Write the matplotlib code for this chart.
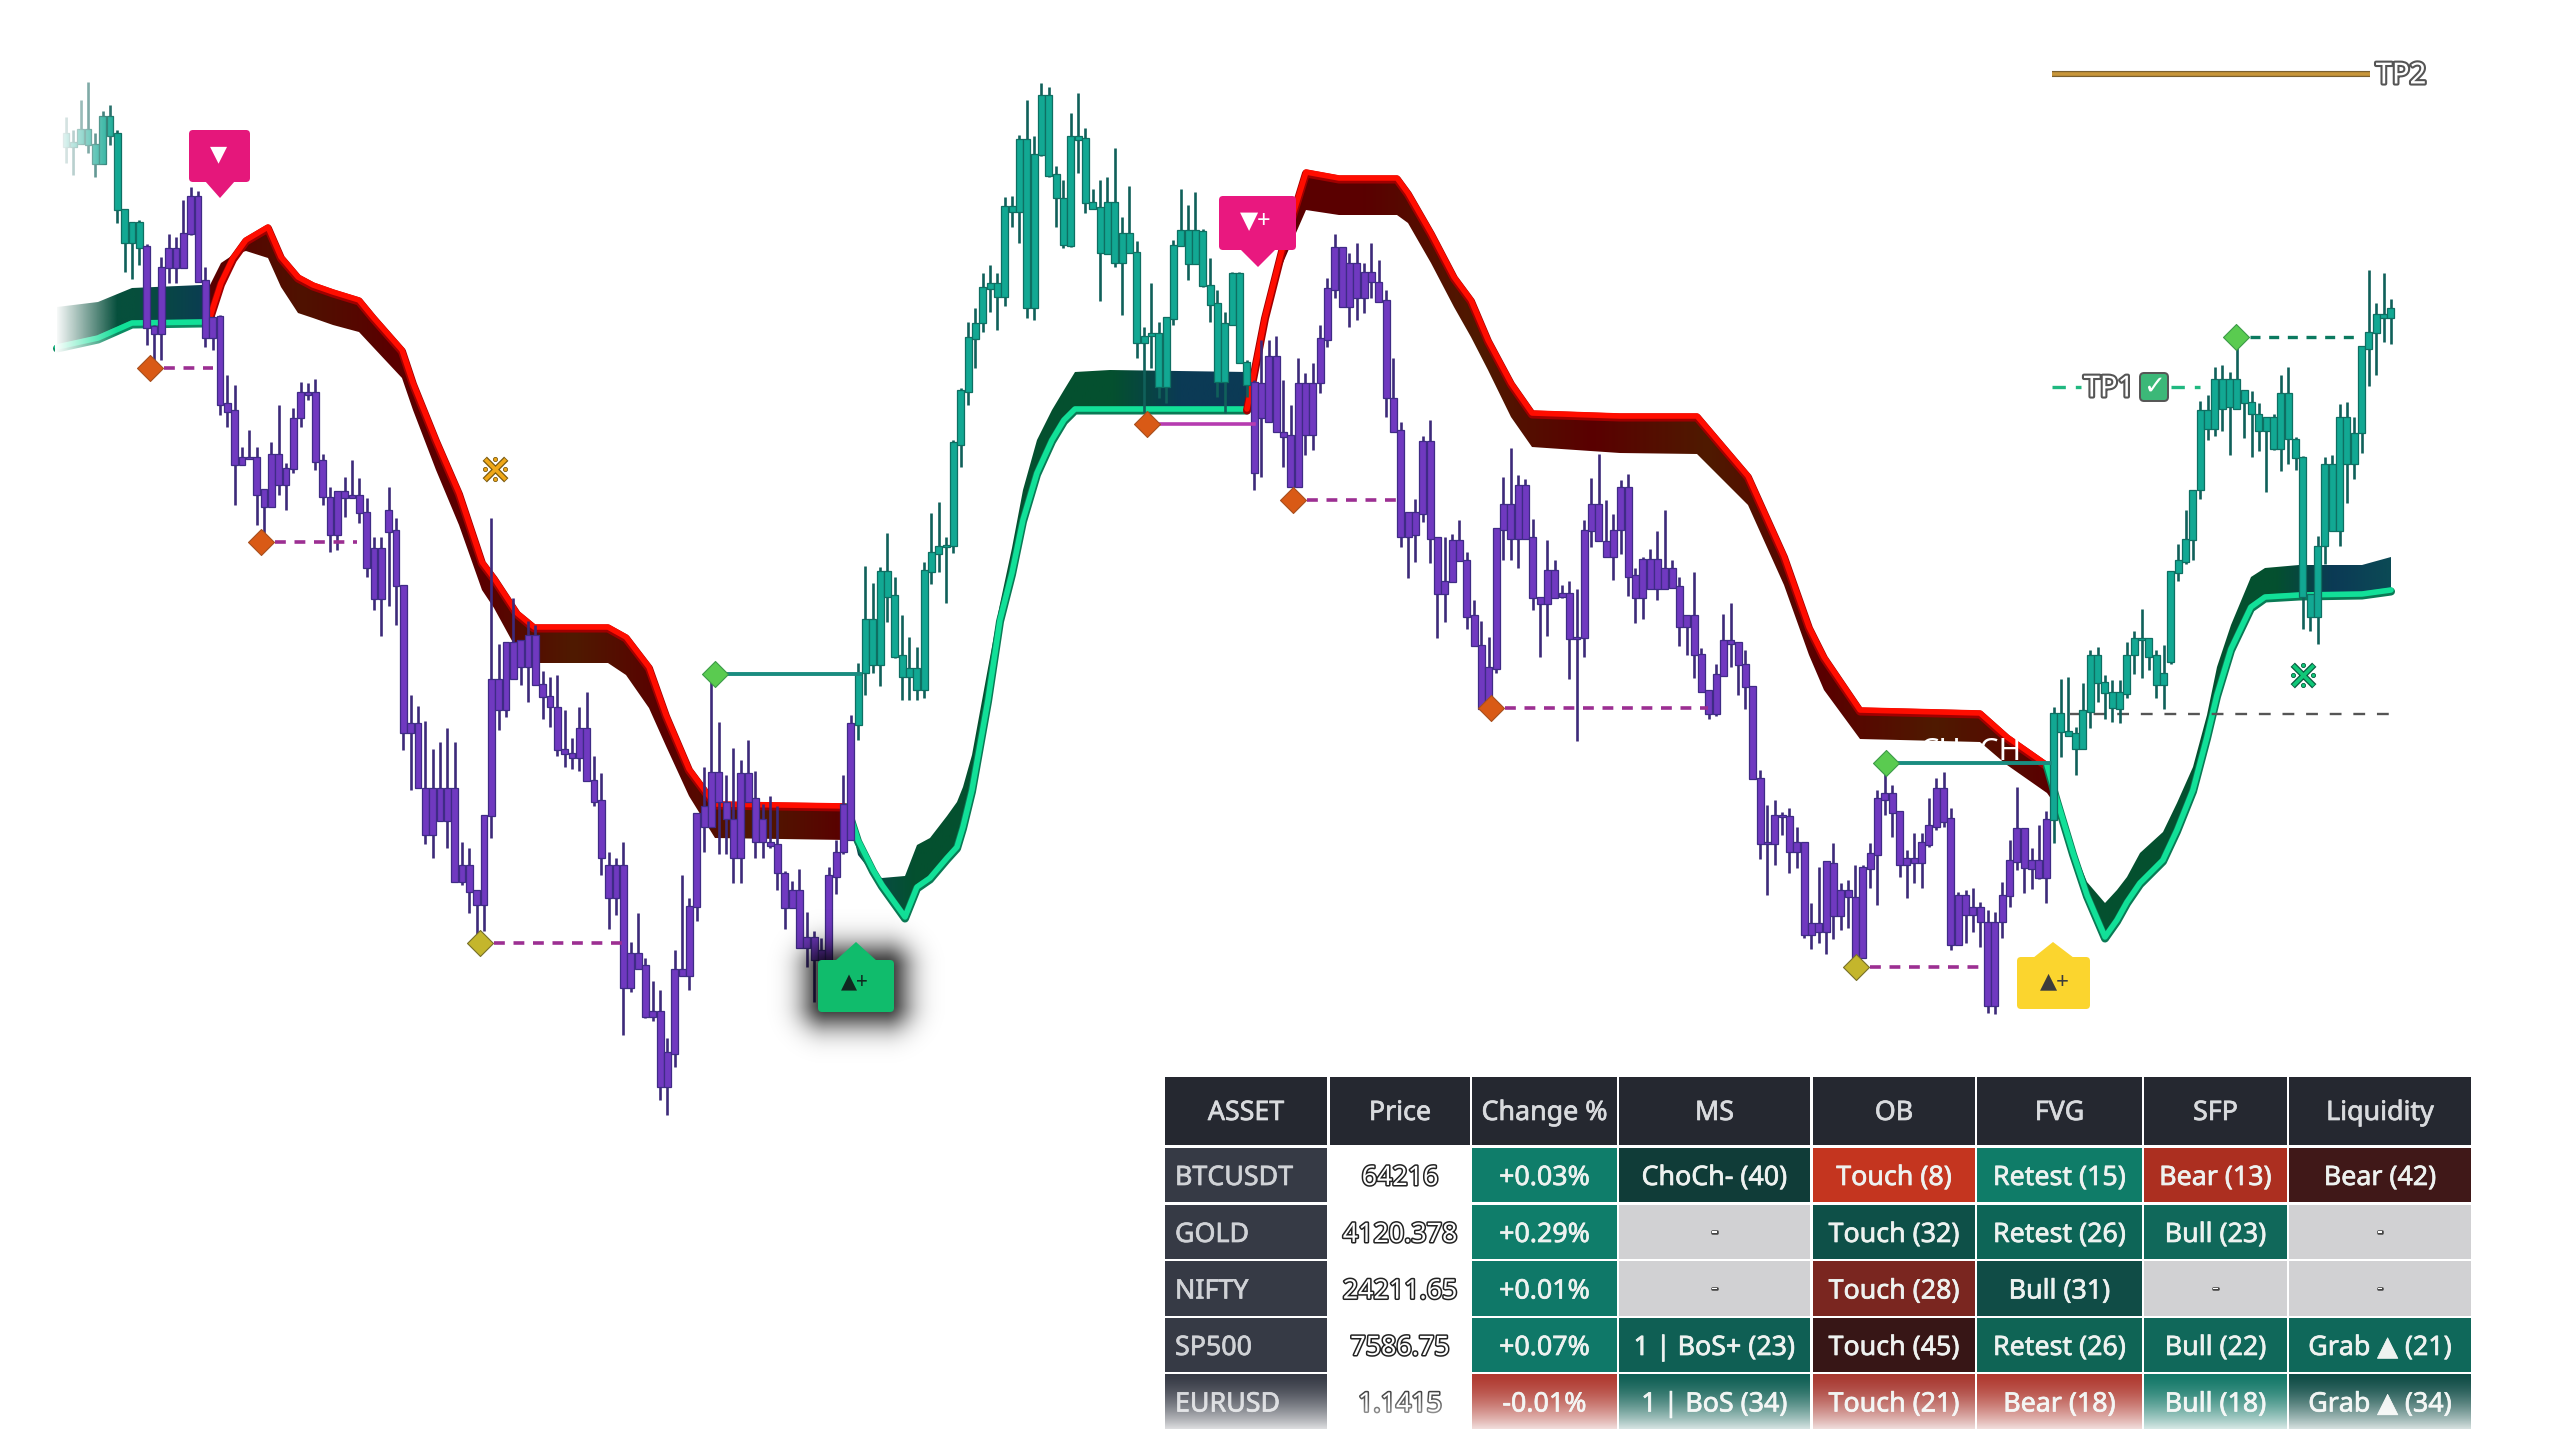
import numpy as np
import matplotlib
matplotlib.use("Agg")
import matplotlib.pyplot as plt
import matplotlib.patheffects as pe
from matplotlib.colors import LinearSegmentedColormap
from matplotlib.patches import FancyBboxPatch, Polygon, Rectangle

plt.rcParams['font.family'] = ['Noto Sans', 'DejaVu Sans']

# candles as (high, body top, body bottom, low), price level
bars_up_a = [
    (117,133,147,163),(130,142,147,175),(100,129,144,144),(82,129,145,153),(133,144,164,177),
    (111,116,164,164),(105,116,136,145),(130,133,210,223),(209,209,243,272),(222,222,243,279),
    (220,222,248,265),
]
bars_down_a = [
    (244,246,328,345),(325,326,334,360),(257,267,334,360),(234,248,268,283),(237,248,268,283),
    (200,233,268,268),(187,196,234,235),(191,196,282,282),(267,280,338,347),(317,317,338,350),
    (315,316,405,415),(375,403,412,427),(385,410,465,505),(447,457,465,465),(430,457,459,459),
    (447,457,495,525),(489,489,507,533),(442,454,507,507),(405,454,485,495),(463,468,485,510),
    (408,418,469,473),(382,392,418,427),(383,392,395,400),(379,392,462,470),(454,460,497,505),
    (487,497,535,552),(491,491,535,550),(477,491,498,517),(460,495,498,498),(478,495,513,523),
    (498,512,568,577),(537,548,599,610),(537,548,599,636),(487,510,532,606),(518,530,586,625),
    (585,585,733,750),(695,723,733,790),(706,723,788,788),(721,788,835,844),(749,788,835,858),
    (742,788,821,821),(728,788,821,848),(742,788,882,882),(842,865,882,885),(848,865,892,913),
    (890,890,905,935),(815,815,905,931),(518,679,816,838),(644,679,710,730),(642,642,710,717),
    (598,642,679,679),(640,640,667,685),(621,635,667,702),(625,635,685,685),(671,684,697,719),
    (677,696,707,727),(675,707,750,756),(710,749,754,767),(738,753,758,769),(707,728,758,771),
    (692,728,781,781),(756,780,802,806),(773,800,858,875),(852,865,898,929),(858,865,898,915),
    (842,865,988,1035),(942,953,988,992),(913,953,969,969),(958,965,1017,1018),(981,1011,1017,1021),
    (990,1011,1087,1100),(1038,1052,1087,1115),(950,969,1054,1067),(875,969,976,976),(898,906,976,990),
    (813,813,907,921),(767,806,827,852),(674,772,827,827),(722,772,802,854),(775,802,819,854),
    (748,819,858,883),(760,773,858,883),(740,773,802,802),(771,798,842,858),(804,819,842,858),
    (796,842,846,848),(806,844,873,890),(871,873,908,929),(881,890,908,908),(869,890,948,948),
    (912,937,948,967),(931,937,960,1002),(938,950,960,1000),(867,875,960,970),(840,852,877,894),
    (775,804,852,854),(715,723,840,840),
]
bars_up_b = [
    (663,673,725,740),(566,619,673,695),(583,619,665,673),(567,571,665,686),(533,571,597,622),
    (577,595,657,658),(615,655,677,700),(637,668,677,700),(647,668,690,700),(562,570,690,698),
    (513,552,572,584),(502,546,554,572),(537,545,547,603),(440,442,546,553),(388,390,445,467),
    (322,337,392,405),(308,323,339,368),(273,287,323,332),(265,283,289,312),(273,283,297,330),
    (197,206,297,306),(196,206,212,227),(135,139,212,243),(100,139,308,318),(136,154,308,320),
    (83,95,155,156),(87,95,176,177),(166,174,198,227),(180,198,245,248),(113,136,246,247),
    (93,136,140,173),(128,138,203,213),(189,202,209,209),(180,207,253,301),(177,202,254,254),
    (148,202,263,267),(217,233,263,315),(186,233,253,253),(241,252,343,358),(327,336,343,413),
    (283,333,336,368),(322,333,387,398),(317,317,387,403),(240,245,319,325),(189,230,246,246),
    (205,230,264,280),(192,230,264,264),(229,231,286,287),(258,285,305,322),(290,303,382,397),
    (312,323,382,413),(272,273,325,325),(272,273,363,363),(360,362,385,397),
]
bars_down_b = [
    (380,382,473,490),(340,383,418,477),(340,356,422,422),(336,356,432,432),(380,432,437,467),
    (405,435,487,487),(358,383,487,487),(373,383,435,455),(363,383,435,450),(325,338,383,393),
    (278,288,340,347),(234,247,290,298),(247,247,307,307),(253,263,307,327),(243,263,298,320),
    (263,272,298,313),(243,272,282,298),(260,282,302,302),(290,300,398,417),(358,398,432,432),
    (422,430,537,547),(512,512,537,578),(499,512,535,562),(436,441,514,522),(420,441,539,563),
    (537,537,594,638),(537,581,594,622),(534,540,582,582),(520,540,561,561),(552,560,617,629),
    (600,615,646,646),(621,645,709,709),(637,667,709,709),(528,528,669,673),(477,504,530,560),
    (448,504,539,560),(475,485,539,568),(479,485,539,539),(519,537,598,610),(597,597,604,657),
    (540,570,604,636),(560,570,598,598),(585,593,597,598),(581,593,639,679),(589,637,639,741),
    (520,530,638,657),(478,504,531,547),(454,504,541,541),(500,541,557,557),(514,530,557,580),
    (480,487,530,554),(474,487,577,596),(568,575,598,623),(557,559,598,619),(549,559,589,589),
    (531,559,589,600),(510,568,589,589),(560,568,588,588),(577,586,627,646),(615,615,627,655),
    (572,615,655,678),(648,654,692,692),(690,690,714,719),(664,674,714,716),(614,640,676,676),
    (603,640,644,667),(642,642,665,695),(650,664,687,709),(686,686,779,779),(770,778,844,859),
    (805,842,844,895),(800,815,844,865),(812,815,817,835),(808,816,852,873),(827,842,852,868),
    (842,842,935,938),(903,923,935,949),(867,923,932,943),(861,861,932,954),(843,863,916,939),
    (883,890,916,930),(880,890,897,928),(865,897,958,958),(865,867,958,958),(843,853,869,888),
    (790,798,855,905),(773,793,800,815),(785,793,813,837),(811,811,865,877),(850,858,865,898),
    (833,858,863,883),(833,842,863,888),(798,825,845,847),(778,788,827,830),(772,788,822,827),
    (808,818,945,950),(892,895,945,945),(890,895,915,943),(888,907,915,932),(902,907,922,947),
    (910,922,1006,1013),(912,922,1006,1014),(882,895,922,938),(840,860,896,907),(787,828,862,870),
    (828,828,868,893),(848,860,869,889),(825,860,878,879),(811,819,878,903),
]
bars_up_c = [
    (707,713,820,843),(679,713,732,757),(677,731,736,736),(727,733,749,775),(683,710,749,749),
    (650,655,712,728),(647,655,683,702),(675,682,693,719),(680,692,708,722),(680,692,709,723),
    (642,655,694,698),(631,638,655,674),(609,638,640,678),(638,638,657,670),(650,655,685,698),
    (645,673,685,709),(571,571,662,664),(544,560,573,581),(510,539,562,564),(490,490,540,560),
    (401,410,490,499),(395,410,429,440),(367,379,429,436),(365,379,409,431),(372,379,407,455),
    (327,379,409,409),(390,390,403,438),(391,402,414,457),(403,414,431,451),(417,417,431,492),
    (414,417,449,450),(375,393,449,471),(367,393,439,464),(437,439,458,470),(456,457,597,629),
    (594,594,617,631),(536,546,617,644),(457,464,546,564),(455,464,531,531),(404,417,531,546),
    (402,417,464,503),(417,433,464,479),(346,346,433,453),(270,332,349,386),(303,314,333,375),
    (273,314,318,342),(299,308,318,344),
]

# moving band: x position, bright edge, far edge
band_a_x = [57, 98, 132, 201, 215]
band_a_bright = [347, 338, 323, 322, 322]
band_a_far = [307, 302, 288, 285, 285]
band_b_x = [210,221,233,246,268,281,298,313,333,359,373,402,413,436,459,482,494,517,534,608,626,649,666,689,715,847]
band_b_bright = [317,283,258,240,227,257,277,285,292,300,317,350,383,440,493,562,578,613,627,627,637,667,715,769,804,806]
band_b_far = [285,263,255,251,258,287,313,318,325,332,347,378,410,470,525,590,608,650,663,663,675,708,746,796,838,840]
band_c_x = [847,858,873,882,905,917,930,947,957,963,972,988,1000,1012,1023,1037,1052,1064,1075,1110,1247]
band_c_bright = [806,840,870,885,917,887,878,858,847,827,790,700,620,573,520,473,440,420,409,409,409]
band_c_far = [806,855,874,878,876,845,838,816,802,787,755,668,604,548,490,440,410,390,372,370,372]
band_d_x = [1247,1265,1282,1306,1339,1397,1408,1431,1454,1471,1488,1511,1532,1620,1697,1748,1784,1809,1824,1860,1980,2007,2047,2052]
band_d_bright = [409,317,250,172,178,178,193,233,277,300,340,383,413,416,416,476,556,627,657,710,713,737,765,770]
band_d_far = [409,325,265,210,215,215,223,263,307,337,370,417,447,453,454,505,585,655,690,739,742,765,793,800]
band_e_x = [2047,2057,2073,2087,2105,2117,2127,2140,2163,2177,2193,2207,2217,2231,2251,2265,2299,2362,2391]
band_e_bright = [765,800,853,895,937,920,902,883,860,830,790,737,695,649,607,597,595,594,590]
band_e_far = [765,800,848,882,903,890,877,853,832,803,767,715,667,625,577,568,565,565,557]

# swing points and their lines
diamond_orange = [(150,368),(261,542),(1147,424),(1293,500),(1491,708)]
diamond_yellow = [(480,943),(1856,967)]
diamond_green = [(715,674),(1886,763),(2236,337)]
swing_dashed = [(150,213,368),(261,357,542),(480,624,943),(1293,1402,500),(1491,1708,708),(1856,1985,967)]
swing_solid = [(1147,1254,424)]
break_solid = [(715,860,674),(1886,2050,763)]
cross_marks = [(495,469,"#F0A818","#7A5A10"),(2303,675,"#10C878","#0A5A40")]

# table
table_head = ["ASSET", "Price", "Change %", "MS", "OB", "FVG", "SFP", "Liquidity"]
table_assets = ["BTCUSDT", "GOLD", "NIFTY", "SP500", "EURUSD"]
table_price = ["64216", "4120.378", "24211.65", "7586.75", "1.1415"]
table_change = ["+0.03%", "+0.29%", "+0.01%", "+0.07%", "-0.01%"]
table_ms = ["ChoCh- (40)", "-", "-", "1 | BoS+ (23)", "1 | BoS (34)"]
table_ob = ["Touch (8)", "Touch (32)", "Touch (28)", "Touch (45)", "Touch (21)"]
table_fvg = ["Retest (15)", "Retest (26)", "Bull (31)", "Retest (26)", "Bear (18)"]
table_sfp = ["Bear (13)", "Bull (23)", "-", "Bull (22)", "Bull (18)"]
table_liq = ["Bear (42)", "-", "-", "Grab ▲ (21)", "Grab ▲ (34)"]
color_change = ["#0F7D6A", "#0F7D6A", "#0F7868", "#0F7868", "#B03A30"]
color_ms = ["#103C38", "#D1D1D3", "#D1D1D3", "#0F5F54", "#0F5F54"]
color_ob = ["#C4351F", "#0E5048", "#7A2620", "#371616", "#A83830"]
color_fvg = ["#0F7C68", "#0D6557", "#104C46", "#0F6455", "#B03A30"]
color_sfp = ["#AC2F20", "#10685A", "#D1D1D3", "#10685A", "#137868"]
color_liq = ["#401818", "#D1D1D3", "#D1D1D3", "#0F685A", "#0F4C46"]

col_edges = [(1165,1327),(1330,1470),(1472,1617),(1619,1810),(1813,1975),(1977,2142),(2144,2287),(2289,2471)]
row_edges = [(1148,1202),(1205,1259),(1261,1316),(1318,1372),(1374,1429)]

BAR_START = 66
BAR_STEP = 7.334
BAR_W = 6.9
TXT = 19.3

fig = plt.figure(figsize=(25.6, 14.4), dpi=100)
ax = fig.add_axes([0, 0, 1, 1])
ax.set_axis_off()


def draw_band(xs, bright, far, stops, line, edge):
    xs = np.array(xs, dtype=float)
    verts = list(zip(xs, bright)) + list(zip(xs[::-1], far[::-1]))
    cmap = LinearSegmentedColormap.from_list("band", stops)
    grad = np.linspace(0, 1, 256)[None, :]
    im = ax.imshow(grad, cmap=cmap, aspect="auto", zorder=2,
                   extent=[xs[0], xs[-1], max(bright + far), min(bright + far)])
    im.set_clip_path(Polygon(verts, transform=ax.transData))
    ax.plot(xs, np.array(bright) + 1.5, color=edge, lw=5.8, zorder=3, solid_capstyle="round")
    ax.plot(xs, bright, color=line, lw=4.0, zorder=3, solid_capstyle="round")


draw_band(band_a_x, band_a_bright, band_a_far, ["#064f3c", "#064f3c", "#0b3a55"], "#12E098", "#0c8a62")
draw_band(band_b_x, band_b_bright, band_b_far,
          ["#5a0000", "#4f1200", "#5a0000", "#5a0000", "#4f1a00", "#5a0000", "#4f1a00", "#5a0000"], "#FF0D00", "#a00000")
draw_band(band_c_x, band_c_bright, band_c_far,
          ["#0b4a55", "#04502F", "#04502F", "#04502F", "#04502F", "#0b3a55", "#0b3a55"], "#12E098", "#0a7a55")
draw_band(band_d_x, band_d_bright, band_d_far,
          ["#5a0000", "#5a0000", "#4f1a00", "#5a0000", "#4f1a00", "#5a0000", "#4f1a00", "#5a0000"], "#FF0D00", "#a00000")
draw_band(band_e_x, band_e_bright, band_e_far,
          ["#04502F", "#04502F", "#04502F", "#04502F", "#04502F", "#0b3a55", "#0b4a55"], "#12E098", "#0a7a55")


def draw_bars(rows, start, body, edge, wick):
    rows = np.array(rows, dtype=float)
    xs = BAR_START + BAR_STEP * (start + np.arange(len(rows)))
    ax.vlines(xs, rows[:, 0], rows[:, 3], color=wick, lw=1.9, zorder=4)
    heights = np.maximum(rows[:, 2] - rows[:, 1], 2)
    ax.bar(xs, heights, bottom=rows[:, 1], width=BAR_W, color=body, edgecolor=edge, linewidth=0.9, zorder=5)


TEAL = ("#12A893", "#0E6F62", "#10605A")
PURPLE = ("#7039C0", "#3F2B86", "#3D2A7A")
n = 0
for rows, style in [(bars_up_a, TEAL), (bars_down_a, PURPLE), (bars_up_b, TEAL), (bars_down_b, PURPLE), (bars_up_c, TEAL)]:
    draw_bars(rows, n, *style)
    n += len(rows)

# swing lines
for x0, x1, y in swing_dashed:
    ax.plot([x0 + 14, x1], [y, y], color="#9C2F92", lw=2.6, ls=(0, (3, 2.4)), zorder=6)
for x0, x1, y in swing_solid:
    ax.plot([x0 + 12, x1], [y, y], color="#B63CB0", lw=2.6, zorder=6)
for x0, x1, y in break_solid:
    ax.plot([x0 + 12, x1], [y, y], color="#1A8C80", lw=2.8, zorder=6)
ax.plot([2236 + 14, 2360], [337, 337], color="#0B7A60", lw=2.4, ls=(0, (3, 2.6)), zorder=6)
ax.plot([2070, 2395], [714, 714], color="#555555", lw=1.7, ls=(0, (5, 5)), zorder=3)

ax.scatter(*zip(*diamond_orange), marker="D", s=175, color="#D95A16", edgecolor="#A8501E", linewidth=0.8, zorder=7)
ax.scatter(*zip(*diamond_yellow), marker="D", s=175, color="#C4B62C", edgecolor="#77702A", linewidth=0.8, zorder=7)
ax.scatter(*zip(*diamond_green), marker="D", s=175, color="#5ACB50", edgecolor="#3C9A48", linewidth=0.8, zorder=7)


def label_box(x0, x1, y0, y1, color, z=8):
    ax.add_patch(FancyBboxPatch((x0 + 3, y0 + 3), x1 - x0 - 6, y1 - y0 - 6, boxstyle="round,pad=3,rounding_size=4",
                                fc=color, ec="none", zorder=z))


# sell labels
label_box(189, 250, 130, 182, "#E5177B")
ax.add_patch(Polygon([(205, 181), (235, 181), (220, 198)], fc="#E5177B", ec="none", zorder=8))
ax.text(219, 155, "▼", color="white", fontsize=16, ha="center", va="center", zorder=9)
label_box(1219, 1296, 196, 250, "#E9187F")
ax.add_patch(Polygon([(1240, 249), (1276, 249), (1258, 267)], fc="#E9187F", ec="none", zorder=8))
ax.text(1256, 222, "▼+", color="white", fontsize=17, ha="center", va="center", zorder=9)

# buy labels, the green one has a soft shadow
sx, sy = np.meshgrid(np.linspace(750, 965, 216), np.linspace(890, 1080, 191))
dx = np.maximum(np.maximum(826 - sx, sx - 886), 0)
dy = np.maximum(np.maximum(968 - sy, sy - 1004), 0)
dist = np.hypot(dx, dy)
shadow = np.zeros(dist.shape + (4,))
shadow[..., 3] = 0.8 * np.exp(-(dist / 26) ** 2)
ax.imshow(shadow, extent=[750, 965, 1080, 890], aspect="auto", zorder=7)
label_box(818, 894, 960, 1012, "#10BC6C")
ax.add_patch(Polygon([(835, 961), (856, 942), (877, 961)], fc="#10BC6C", ec="none", zorder=8))
ax.text(855, 983, "▲+", color="#102820", fontsize=15, ha="center", va="center", zorder=9)
label_box(2017, 2090, 957, 1009, "#FBD52E")
ax.add_patch(Polygon([(2033, 958), (2053, 942), (2074, 958)], fc="#FBD52E", ec="none", zorder=8))
ax.text(2055, 982, "▲+", color="#3C3C3C", fontsize=16, ha="center", va="center", zorder=9)

# cross markers
for cx, cy, fill, dark in cross_marks:
    ax.scatter([cx], [cy], marker="x", s=240, color=dark, linewidth=4.4, zorder=7)
    ax.scatter([cx], [cy], marker="x", s=215, color=fill, linewidth=2.6, zorder=7)
    ax.scatter([cx - 10, cx + 10, cx, cx], [cy, cy, cy - 10, cy + 10], s=9, color=fill, edgecolor=dark, linewidth=0.6, zorder=7)

# take profit marks
outline = [pe.withStroke(linewidth=3.0, foreground="#555555")]
ax.plot([2052, 2370], [74, 74], color="#7A6030", lw=4.4, zorder=6, solid_capstyle="butt")
ax.plot([2052, 2370], [74, 74], color="#C8963A", lw=2.6, zorder=6, solid_capstyle="butt")
ax.text(2401, 76, "TP2", color="white", fontsize=21, ha="center", va="center", zorder=7, path_effects=outline)
ax.plot([2052, 2081], [387, 387], color="#20B880", lw=2.4, ls=(0, (4, 3)), zorder=6)
ax.plot([2171, 2200], [387, 387], color="#20B880", lw=2.4, ls=(0, (4, 3)), zorder=6)
ax.text(2109, 389, "TP1", color="white", fontsize=21, ha="center", va="center", zorder=7, path_effects=outline)
ax.add_patch(FancyBboxPatch((2143, 376), 22, 22, boxstyle="round,pad=3,rounding_size=4",
                            fc="#3CB878", ec="#555555", lw=1.4, zorder=7))
ax.text(2154, 387, "✓", color="white", fontsize=19, ha="center", va="center", zorder=8, family="DejaVu Sans")

ax.text(1970, 752, "CHoCH", color="white", fontsize=22, ha="center", va="center", zorder=6)

# left edge of the chart fades out
fade = np.ones((1, 64, 4))
fade[..., 3] = np.linspace(1, 0, 64)
ax.imshow(fade, extent=[55, 118, 360, 60], aspect="auto", zorder=6)

# table cells
weight = lambda c: [pe.withStroke(linewidth=0.5, foreground=c)]
for (x0, x1), name in zip(col_edges, table_head):
    ax.add_patch(Rectangle((x0, 1077), x1 - x0, 68, fc="#252830", ec="none", zorder=11))
    ax.text((x0 + x1) / 2, 1113, name, color="#D9DBDE", fontsize=TXT, ha="center", va="center", zorder=12,
            path_effects=weight("#D9DBDE"))

text_cols = [table_change, table_ms, table_ob, table_fvg, table_sfp, table_liq]
color_cols = [color_change, color_ms, color_ob, color_fvg, color_sfp, color_liq]
for r, (y0, y1) in enumerate(row_edges):
    yc = (y0 + y1) / 2 + 3
    x0, x1 = col_edges[0]
    ax.add_patch(Rectangle((x0, y0), x1 - x0, y1 - y0, fc="#363A45", ec="none", zorder=11))
    ax.text(x0 + 10, yc, table_assets[r], color="#D0D2D6", fontsize=TXT, ha="left", va="center", zorder=12,
            path_effects=weight("#D0D2D6"))
    x0, x1 = col_edges[1]
    ax.text((x0 + x1) / 2, yc, table_price[r], color="white", fontsize=TXT, ha="center", va="center", zorder=12,
            path_effects=[pe.withStroke(linewidth=2.2, foreground="#222222")])
    for c in range(6):
        x0, x1 = col_edges[c + 2]
        ax.add_patch(Rectangle((x0, y0), x1 - x0, y1 - y0, fc=color_cols[c][r], ec="none", zorder=11))
        if text_cols[c][r] == "-":
            ax.text((x0 + x1) / 2, yc - 3, "-", color="white", fontsize=14, ha="center", va="center", zorder=12,
                    path_effects=[pe.withStroke(linewidth=1.8, foreground="#444444")])
        else:
            ax.text((x0 + x1) / 2, yc, text_cols[c][r], color="#EEF2F0", fontsize=TXT, ha="center", va="center", zorder=12,
                    path_effects=weight("#EEF2F0"))

# last row fades into the page
t = np.linspace(0, 1, 64)
fade = np.ones((64, 1, 4))
fade[..., 0, 3] = 0.9 * t ** 1.6
ax.imshow(fade, extent=[1160, 2480, 1432, 1372], aspect="auto", zorder=13)

ax.set_xlim(0, 2560)
ax.set_ylim(1440, 0)
fig.savefig("out.png", dpi=100, facecolor="white")
